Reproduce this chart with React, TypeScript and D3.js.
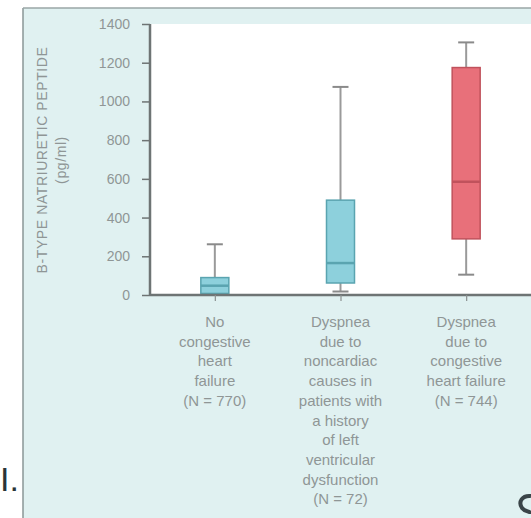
import { useEffect, useRef } from 'react';
import * as d3 from 'd3';

const categories = ['none', 'noncardiac', 'chf'];
const labels = [
  ['No', 'congestive', 'heart', 'failure', '(N = 770)'],
  ['Dyspnea', 'due to', 'noncardiac', 'causes in', 'patients with', 'a history', 'of left', 'ventricular', 'dysfunction', '(N = 72)'],
  ['Dyspnea', 'due to', 'congestive', 'heart failure', '(N = 744)'],
];
const whiskerLow = [0, 18, 105];
const q1 = [8, 62, 290];
const median = [48, 165, 585];
const q3 = [90, 490, 1175];
const whiskerHigh = [262, 1075, 1305];
const yTicks = [0, 200, 400, 600, 800, 1000, 1200, 1400];
const boxColors = ['#8dd0dc', '#8dd0dc', '#e8707a'];
const edgeColors = ['#5aa4b0', '#5aa4b0', '#c0525c'];

const W = 531;
const H = 518;
const FONT = 'Liberation Sans, Arial, sans-serif';

const App = () => {
  const svgRef = useRef<SVGSVGElement>(null);

  useEffect(() => {
    const svg = d3.select(svgRef.current);
    svg.selectAll('*').remove();

    const x = d3.scalePoint().domain(categories).range([152, 529]).padding(0.5);
    const y = d3.scaleLinear().domain([0, 1400]).range([295, 24]);

    // panel background
    svg.append('rect').attr('x', 23).attr('y', 8).attr('width', W - 23).attr('height', H - 8).attr('fill', '#e0f1f1');
    svg.append('line').attr('x1', 23).attr('x2', 23).attr('y1', 8).attr('y2', H).attr('stroke', '#8a9696').attr('stroke-width', 1.5);
    svg.append('line').attr('x1', 23).attr('x2', W).attr('y1', 8).attr('y2', 8).attr('stroke', '#9aa6a6').attr('stroke-width', 1.5);

    // plot area
    svg.append('rect').attr('x', 151).attr('y', 24).attr('width', W - 151).attr('height', 271).attr('fill', '#ffffff');

    const g = svg.append('g');

    // boxes
    categories.forEach((c, i) => {
      const cx = x(c) as number;
      const bw = 28;
      const cap = 16;
      g.append('line').attr('x1', cx).attr('x2', cx).attr('y1', y(whiskerHigh[i])).attr('y2', y(q3[i]))
        .attr('stroke', '#9a9a9a').attr('stroke-width', 2);
      g.append('line').attr('x1', cx).attr('x2', cx).attr('y1', y(q1[i])).attr('y2', y(whiskerLow[i]))
        .attr('stroke', '#9a9a9a').attr('stroke-width', 2);
      g.append('line').attr('x1', cx - cap / 2).attr('x2', cx + cap / 2).attr('y1', y(whiskerHigh[i])).attr('y2', y(whiskerHigh[i]))
        .attr('stroke', '#8a8a8a').attr('stroke-width', 2);
      g.append('line').attr('x1', cx - cap / 2).attr('x2', cx + cap / 2).attr('y1', y(whiskerLow[i])).attr('y2', y(whiskerLow[i]))
        .attr('stroke', '#8a8a8a').attr('stroke-width', 2);
      g.append('rect').attr('x', cx - bw / 2).attr('y', y(q3[i])).attr('width', bw).attr('height', y(q1[i]) - y(q3[i]))
        .attr('fill', boxColors[i]).attr('stroke', edgeColors[i]).attr('stroke-width', 1.5);
      g.append('line').attr('x1', cx - bw / 2).attr('x2', cx + bw / 2).attr('y1', y(median[i])).attr('y2', y(median[i]))
        .attr('stroke', edgeColors[i]).attr('stroke-width', 2.5);
    });

    // y axis
    const yAxis = g.append('g').attr('transform', 'translate(150,0)')
      .call(d3.axisLeft(y).tickValues(yTicks).tickSize(8).tickPadding(12).tickFormat(d3.format('d')));
    yAxis.select('.domain').attr('stroke', '#6e7474').attr('stroke-width', 2.5).attr('d', 'M0,24V295');
    yAxis.selectAll('.tick line').attr('stroke', '#6e7474').attr('stroke-width', 1.5);
    yAxis.selectAll('.tick text').attr('fill', '#8f9696').attr('font-size', 14).attr('font-family', FONT);

    // x axis
    const xAxis = g.append('g').attr('transform', 'translate(0,295)')
      .call(d3.axisBottom(x).tickSize(6).tickFormat(() => ''));
    xAxis.select('.domain').attr('stroke', '#6e7474').attr('stroke-width', 2.5).attr('d', `M150,0H${W}`);
    xAxis.selectAll('.tick line').attr('stroke', '#8a9090').attr('stroke-width', 1.2);

    // category labels
    categories.forEach((c, i) => {
      const t = g.append('text').attr('x', x(c) as number).attr('y', 327).attr('text-anchor', 'middle')
        .attr('font-family', FONT).attr('font-size', 15).attr('fill', '#8f9696');
      labels[i].forEach((line, j) => {
        t.append('tspan').attr('x', x(c) as number).attr('dy', j === 0 ? 0 : 19.7).text(line);
      });
    });

    // y title
    const yt = g.append('text').attr('transform', 'translate(47,160) rotate(-90)').attr('text-anchor', 'middle')
      .attr('font-family', FONT).attr('font-size', 14).attr('letter-spacing', 0.6).attr('fill', '#8f9696');
    yt.append('tspan').attr('x', 0).attr('dy', 0).text('B-TYPE NATRIURETIC PEPTIDE');
    yt.append('tspan').attr('x', 0).attr('dy', 19).text('(pg/ml)');

    // panel letter
    svg.append('text').attr('x', 0).attr('y', 491).attr('font-family', FONT)
      .attr('font-size', 34).attr('fill', '#2a3438').text('I.');
    // cut-off glyph fragment at the lower right corner
    svg.append('path').attr('d', 'M531,496 C522,495 518,502 522,508 C525,512 531,511 531,514')
      .attr('fill', 'none').attr('stroke', '#3a4448').attr('stroke-width', 4);
  }, []);

  return (
    <svg ref={svgRef} width={W} height={H} style={{ position: 'absolute', left: 0, top: 0, background: '#fff' }} />
  );
};

export default App;
